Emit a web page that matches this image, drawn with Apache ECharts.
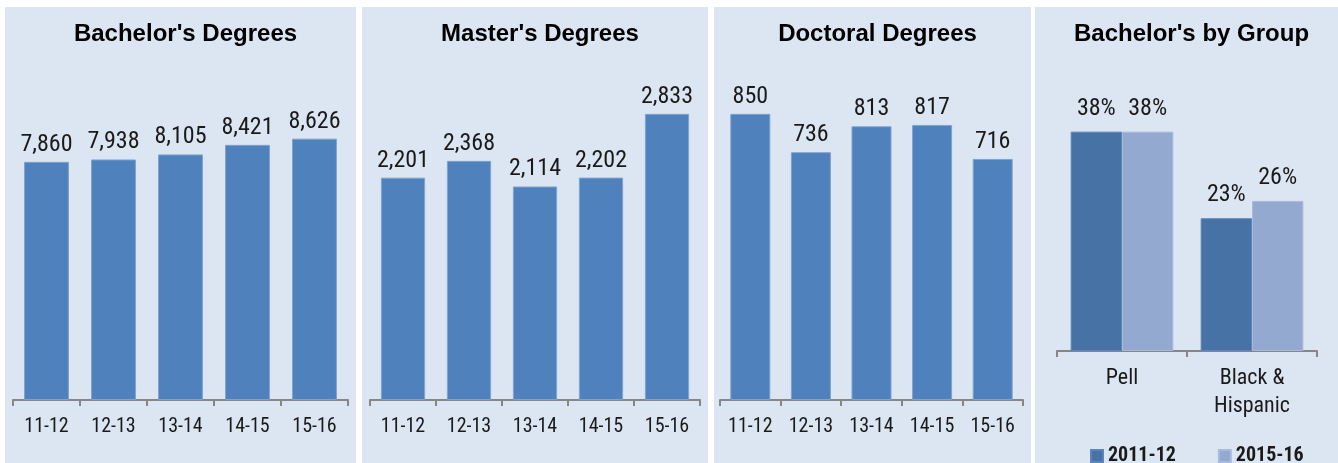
<!DOCTYPE html>
<html><head><meta charset="utf-8">
<script src="https://cdn.jsdelivr.net/npm/echarts@6/dist/echarts.min.js"></script>
<style>html,body{margin:0;padding:0;background:#fff}#c{width:1338px;height:463px}</style>
</head><body><div id="c"></div>
<script>
const years = ['11-12','12-13','13-14','14-15','15-16'];
const bachelors = [7860, 7938, 8105, 8421, 8626];
const masters = [2201, 2368, 2114, 2202, 2833];
const doctoral = [850, 736, 813, 817, 716];
const groups = ['Pell', 'Black &\nHispanic'];
const group2011 = [38, 23];
const group2015 = [38, 26];
const titles = ["Bachelor's Degrees", "Master's Degrees", "Doctoral Degrees", "Bachelor's by Group"];

const NARROW = '"Liberation Sans Narrow","Arial Narrow","Roboto Condensed",sans-serif';
const BOLD = '"Liberation Sans",Arial,sans-serif';
const panels = [[5,356],[362,708],[714,1031],[1035,1338]];
const W = 1338;
const chart = echarts.init(document.getElementById('c'), null, {renderer:'canvas'});

const grids = [
  {left:13, right:W-348, top:97, bottom:63},
  {left:370, right:W-700, top:97, bottom:63},
  {left:720, right:W-1023, top:97, bottom:63},
  {left:1057, right:W-1317, top:97, bottom:112}
];
const maxes = [10000, 3000, 900, 44];
const axisLine = {show:true, lineStyle:{color:'#868686', width:2}};
const xAxes = grids.map((g,i)=>({
  type:'category', gridIndex:i, data: i<3 ? years : groups,
  axisLine, axisTick:{show:true, length:6, lineStyle:{color:'#868686', width:2}},
  axisLabel:{color:'#1a1a1a', fontFamily:NARROW, fontSize: i<3?20:22, margin:13, lineHeight:28}
}));
const yAxes = grids.map((g,i)=>({
  type:'value', gridIndex:i, min:0, max:maxes[i], show:false, splitLine:{show:false}
}));
const fmt = p => p.value.toLocaleString('en-US');
const labelBase = {show:true, position:'top', distance:5, color:'#1a1a1a', fontFamily:NARROW, fontSize:24};
const barStyle = {color:'#4f81bd', borderColor:'#7ea3cf', borderWidth:1};
const series = [
  {type:'bar', xAxisIndex:0, yAxisIndex:0, data:bachelors, barCategoryGap:'33%', itemStyle:barStyle, label:{...labelBase, formatter:fmt}},
  {type:'bar', xAxisIndex:1, yAxisIndex:1, data:masters, barCategoryGap:'33%', itemStyle:barStyle, label:{...labelBase, formatter:fmt}},
  {type:'bar', xAxisIndex:2, yAxisIndex:2, data:doctoral, barCategoryGap:'34%', itemStyle:barStyle, label:{...labelBase, formatter:fmt}},
  {name:'2011-12', type:'bar', xAxisIndex:3, yAxisIndex:3, data:group2011, barGap:'0%', barCategoryGap:'21%',
    itemStyle:{color:'#4672a6', borderColor:'#5d86b8', borderWidth:1}, label:{...labelBase, distance:11, fontSize:24, formatter:p=>p.value+'%'}},
  {name:'2015-16', type:'bar', xAxisIndex:3, yAxisIndex:3, data:group2015, barGap:'0%', barCategoryGap:'21%',
    itemStyle:{color:'#94a9d0', borderColor:'#a9bbdb', borderWidth:1}, label:{...labelBase, distance:11, fontSize:24, formatter:p=>p.value+'%'}}
];
const title = titles.map((t,i)=>({
  text:t, left:(panels[i][0]+panels[i][1])/2, top:17, textAlign:'center',
  textStyle:{fontFamily:BOLD, fontWeight:'bold', fontSize:24, color:'#000'}
}));
chart.setOption({
  backgroundColor:'#ffffff',
  animation:false,
  graphic: panels.map(p=>({type:'rect', z:-10, silent:true, shape:{x:p[0], y:7, width:p[1]-p[0], height:463-7}, style:{fill:'#dce6f2'}})),
  title,
  grid:grids,
  xAxis:xAxes, yAxis:yAxes,
  legend:{left:1085, top:441, itemWidth:12, itemHeight:12, itemGap:42, icon:'rect',
    data:['2011-12','2015-16'],
    textStyle:{fontFamily:NARROW, fontWeight:'bold', fontSize:20, color:'#1a1a1a'}},
  series
});
</script></body></html>
